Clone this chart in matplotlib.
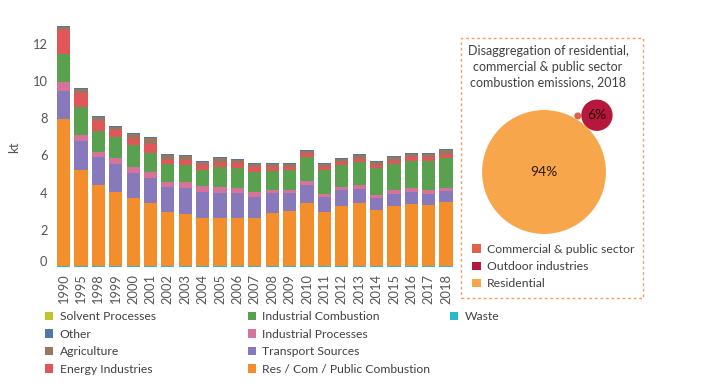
import numpy as np
import matplotlib
matplotlib.use("Agg")
import matplotlib.pyplot as plt
from matplotlib.patches import Patch, Circle, Rectangle
from matplotlib.transforms import ScaledTranslation

plt.rcParams['font.family'] = ['Lato', 'DejaVu Sans']

# emissions by sector, kt
years = ["1990", "1995"] + [str(y) for y in range(1998, 2019)]

waste = [0.06] * 23
res_com = [7.91, 5.17, 4.37, 3.97, 3.65, 3.35, 2.88, 2.79, 2.59, 2.57, 2.59, 2.59,
           2.84, 2.93, 3.40, 2.88, 3.24, 3.40, 2.99, 3.20, 3.34, 3.27, 3.42]
transport = [1.53, 1.54, 1.48, 1.53, 1.34, 1.37, 1.36, 1.40, 1.38, 1.37, 1.31, 1.11,
             1.08, 0.99, 0.93, 0.82, 0.82, 0.75, 0.66, 0.65, 0.63, 0.61, 0.59]
ind_proc = [0.45, 0.34, 0.27, 0.32, 0.33, 0.33, 0.27, 0.32, 0.31, 0.30, 0.27, 0.27,
            0.18, 0.18, 0.21, 0.18, 0.18, 0.18, 0.18, 0.21, 0.24, 0.22, 0.20]
ind_comb = [1.50, 1.49, 1.11, 1.11, 1.16, 1.02, 0.95, 0.93, 0.86, 1.08, 1.10, 1.08,
            1.00, 1.04, 1.31, 1.26, 1.17, 1.26, 1.43, 1.40, 1.41, 1.52, 1.59]
energy = [1.30, 0.75, 0.54, 0.36, 0.36, 0.50, 0.25, 0.27, 0.27, 0.23, 0.25, 0.27,
          0.22, 0.18, 0.20, 0.19, 0.18, 0.17, 0.15, 0.19, 0.21, 0.21, 0.17]
agriculture = [0.15, 0.23, 0.23, 0.17, 0.24, 0.30, 0.23, 0.21, 0.20, 0.24, 0.20, 0.17,
               0.17, 0.17, 0.14, 0.14, 0.17, 0.18, 0.17, 0.22, 0.18, 0.18, 0.24]
other = [0.08] + [0.05] * 22
solvent = [0.003] * 23

# 2018 split of residential / commercial & public combustion, %
pie_names = ["Commercial & public sector", "Outdoor industries", "Residential"]
pie_vals = [0.3, 6.0, 93.7]
pie_colors = ["#E0614B", "#B5183C", "#F8A64C"]

stack = [
    ("Waste", waste, "#29B9CC"),
    ("Res / Com / Public Combustion", res_com, "#F28E2B"),
    ("Transport Sources", transport, "#8878BC"),
    ("Industrial Processes", ind_proc, "#D6739A"),
    ("Industrial Combustion", ind_comb, "#59A14F"),
    ("Energy Industries", energy, "#E15759"),
    ("Agriculture", agriculture, "#9C755F"),
    ("Other", other, "#4E79A7"),
    ("Solvent Processes", solvent, "#BCC52A"),
]

fig = plt.figure(figsize=(7.14, 3.92), dpi=100)
ax = fig.add_axes([0.0744, 0.3054, 0.565, 0.6388])

x = np.arange(len(years))
bottom = np.zeros(len(years))
for name, vals, col in stack:
    ax.bar(x, vals, 0.76, bottom=bottom, color=col, linewidth=0)
    bottom += np.array(vals)

ax.set_xlim(-0.6, len(years) - 0.4)
ax.set_ylim(-0.3, 13.2)
ax.set_yticks([0, 2, 4, 6, 8, 10, 12])
ax.set_xticks(x)
ax.set_xticklabels(years, rotation=90)
ax.tick_params(axis="both", length=0, labelsize=9.3, labelcolor="#555555")
ax.tick_params(axis="x", pad=1)
ax.tick_params(axis="y", pad=4)
ax.set_ylabel("kt", fontsize=9.5, color="#555555", labelpad=9)
for s in ax.spines.values():
    s.set_visible(False)
# zero label sits a bit higher in the original
zero_lab = ax.get_yticklabels()[0]
zero_lab.set_transform(zero_lab.get_transform() + ScaledTranslation(0, 6 / 100, fig.dpi_scale_trans))

# legends below the bars, 4 rows per column
handles = {name: Patch(facecolor=col) for name, vals, col in stack}
cols = [["Solvent Processes", "Other", "Agriculture", "Energy Industries"],
        ["Industrial Combustion", "Industrial Processes", "Transport Sources",
         "Res / Com / Public Combustion"],
        ["Waste"]]
xs = [45, 248, 450]
for names, xp in zip(cols, xs):
    fig.legend([handles[n] for n in names], names, loc="upper left",
               bbox_to_anchor=(xp / 714, 1 - 311 / 392), frameon=False,
               fontsize=8.7, handlelength=0.7, handleheight=0.7,
               handletextpad=0.5, labelspacing=0.55, borderpad=0,
               borderaxespad=0, labelcolor="#404040")

# inset: bubble chart
fig.patches.append(Rectangle((461 / 714, 1 - 298 / 392), 182 / 714, 260 / 392,
                             transform=fig.transFigure, fill=False,
                             edgecolor="#EFA050", linewidth=1,
                             linestyle=(0, (2, 2))))
fig.text(548 / 714, 1 - 45 / 392,
         "Disaggregation of residential,\ncommercial & public sector\ncombustion emissions, 2018",
         ha="center", va="top", fontsize=9.0, color="#404040", linespacing=1.38)

bx = fig.add_axes([470 / 714, 1 - 245 / 392, 160 / 714, 150 / 392])
bx.set_xlim(-74 / 6.4, 86 / 6.4)
bx.set_ylim(-73 / 6.4, 77 / 6.4)
bx.axis("off")

r = np.sqrt(pie_vals)
R, r2, r3 = r[2], r[1], r[0]
ang = np.deg2rad(47)
c2 = np.array([np.cos(ang), np.sin(ang)]) * (R + r2)
# small bubble touching the big and the dark one
d1, d2, d12 = R + r3, r2 + r3, R + r2
a = np.arccos((d1**2 + d12**2 - d2**2) / (2 * d1 * d12))
c3 = np.array([np.cos(ang + a), np.sin(ang + a)]) * d1
centers = [c3, c2, np.array([0.0, 0.0])]
for c, rad, col in zip(centers, r, pie_colors):
    bx.add_patch(Circle(c, rad, facecolor=col, edgecolor="none"))
bx.text(centers[2][0], centers[2][1], "%d%%" % round(pie_vals[2]),
        ha="center", va="center", fontsize=10, color="#2a1a0a")
bx.text(centers[1][0], centers[1][1], "%d%%" % round(pie_vals[1]),
        ha="center", va="center", fontsize=10, color="#2a0a0a")

fig.legend([Patch(facecolor=c) for c in pie_colors], pie_names, loc="upper left",
           bbox_to_anchor=(472 / 714, 1 - 244 / 392), frameon=False,
           fontsize=8.8, handlelength=0.7, handleheight=0.7,
           handletextpad=0.5, labelspacing=0.5, borderpad=0,
           borderaxespad=0, labelcolor="#404040")

fig.savefig("out.png", dpi=100)
